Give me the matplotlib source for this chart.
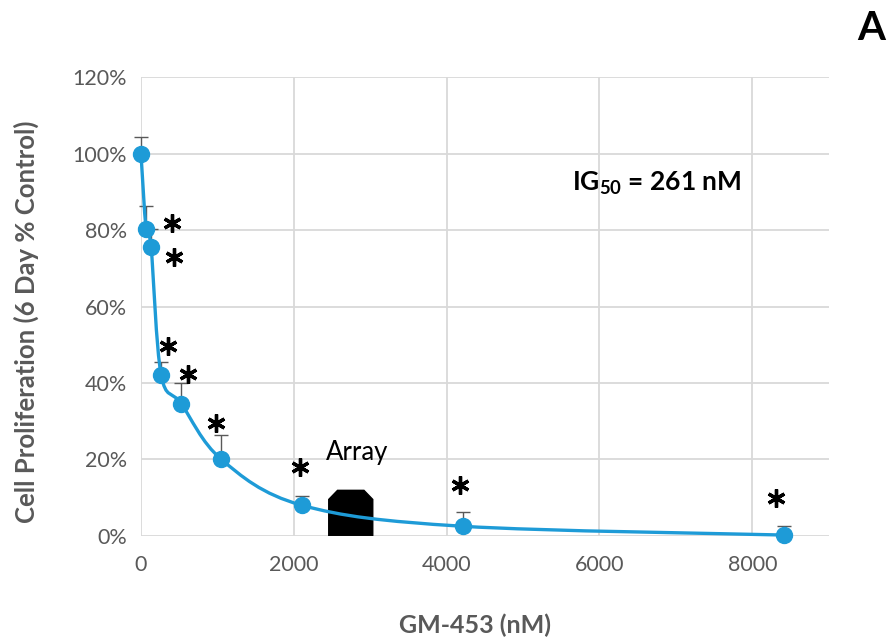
import numpy as np
import matplotlib.pyplot as plt
from matplotlib.path import Path
from matplotlib.patches import PathPatch

plt.rcParams['font.family'] = ['Lato', 'DejaVu Sans']
plt.rcParams['mathtext.fontset'] = 'custom'
plt.rcParams['mathtext.rm'] = 'Lato'
plt.rcParams['mathtext.bf'] = 'Lato:bold'

# GM-453 dose (nM) and proliferation (% of control)
dose = [0, 66, 132, 263, 526, 1052, 2104, 4208, 8416]
prolif = [100.0, 80.4, 75.5, 42.2, 34.6, 20.0, 8.0, 2.5, 0.2]
err_up = [4.3, 5.8, 4.8, 3.3, 5.5, 6.3, 2.4, 3.8, 2.3]

# significance stars (x, y)
star_x = [405, 431, 349, 614, 980, 2078, 4179, 8310]
star_y = [81.8, 72.9, 49.7, 42.3, 29.5, 18.0, 13.3, 9.8]

# array region
array_lo, array_hi, array_top = 2457, 3033, 11.9
array_label_x, array_label_y = 2824, 21.9

x_ticks = [0, 2000, 4000, 6000, 8000]
y_ticks = [0, 20, 40, 60, 80, 100, 120]

blue = '#1E9BD7'
grey = '#595959'


def smooth_path(xs, ys, t=1 / 6):
    pts = np.column_stack([xs, ys]).astype(float)
    n = len(pts)
    verts = [pts[0]]
    codes = [Path.MOVETO]
    for i in range(n - 1):
        p0 = pts[max(i - 1, 0)]
        p1 = pts[i]
        p2 = pts[i + 1]
        p3 = pts[min(i + 2, n - 1)]
        c1 = p1 + (p2 - p0) * t
        c2 = p2 - (p3 - p1) * t
        verts += [c1, c2, p2]
        codes += [Path.CURVE4] * 3
    return Path(verts, codes)


fig = plt.figure(figsize=(8.94, 6.44), dpi=100)
ax = fig.add_axes([0.1577, 0.168, 0.7693, 0.712])

ax.set_xlim(0, 9000)
ax.set_ylim(0, 120)
ax.set_xticks(x_ticks)
ax.set_yticks(y_ticks)
ax.set_yticklabels([f'{v}%' for v in y_ticks])
ax.grid(True, color='#d9d9d9', lw=1.3)
ax.set_axisbelow(True)
for s in ax.spines.values():
    s.set_visible(False)
ax.tick_params(length=0, labelsize=15.5, labelcolor=grey)
ax.tick_params(axis='x', pad=14)
ax.tick_params(axis='y', pad=10)

# array block (rectangle with clipped top corners)
cut_x = (array_hi - array_lo) * 0.2
cut_y = array_top * 0.2
ax.fill([array_lo, array_lo, array_lo + cut_x, array_hi - cut_x, array_hi, array_hi],
        [0, array_top - cut_y, array_top, array_top, array_top - cut_y, 0],
        color='black', zorder=3)
ax.text(array_label_x, array_label_y, 'Array', fontsize=18.5, ha='center', va='center')

ax.errorbar(dose, prolif, yerr=[np.zeros(len(err_up)), err_up], fmt='none',
            ecolor=grey, elinewidth=1, capsize=5, capthick=1, zorder=2,
            clip_on=False)
ax.add_patch(PathPatch(smooth_path(dose, prolif), fill=False, edgecolor=blue,
                       lw=2.4, zorder=4, clip_on=False))
ax.plot(dose, prolif, 'o', color=blue, ms=11.5, zorder=5, clip_on=False)

ax.plot(star_x, star_y, ls='none', marker=(6, 2, 0), color='black',
        ms=13, mew=2.4, zorder=6)

ax.text(0.626, 0.769, r'IG$_{\mathbf{50}}$ = 261 nM', transform=ax.transAxes,
        fontsize=19, fontweight='bold', ha='left', va='center')

ax.set_ylabel('Cell Proliferation (6 Day % Control)', fontsize=18.5,
              fontweight='bold', color=grey)
ax.yaxis.set_label_coords(-0.149, 0.466)
ax.set_xlabel('GM-453 (nM)', fontsize=18, fontweight='bold', color=grey)
ax.xaxis.set_label_coords(0.485, -0.169)

fig.text(0.975, 0.955, 'A', fontsize=29, fontweight='bold', ha='center', va='center')

fig.savefig('out.png', dpi=100)
